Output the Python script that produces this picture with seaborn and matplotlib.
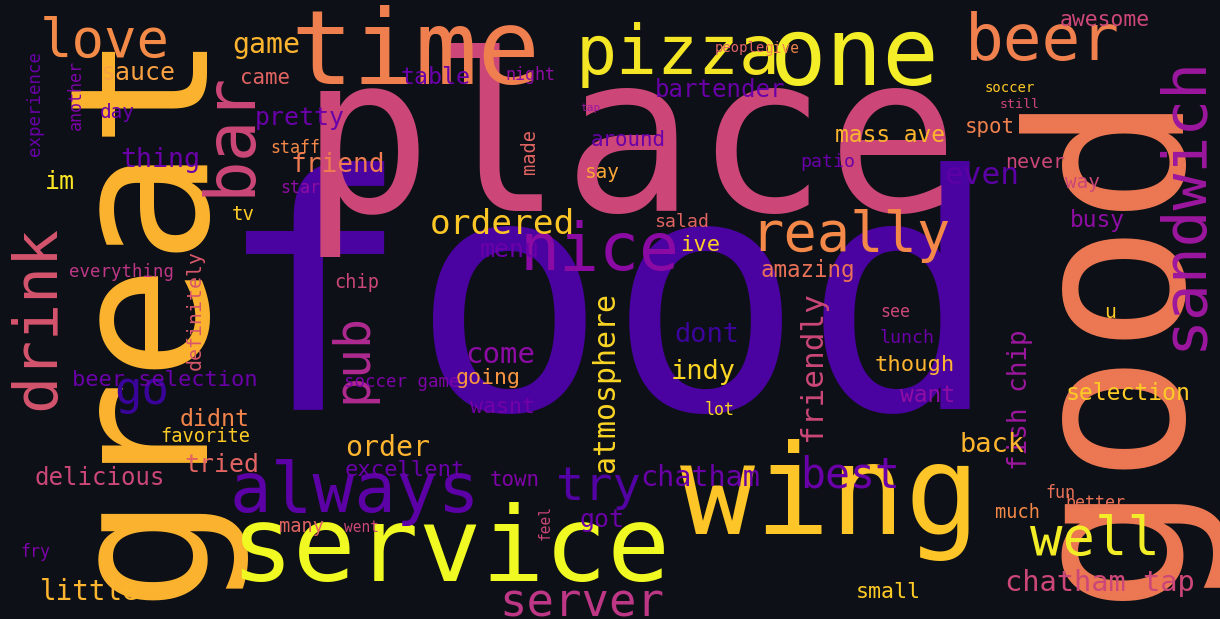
import matplotlib
matplotlib.use("Agg")
import matplotlib.pyplot as plt
import seaborn as sns

sns.set_theme(style="dark")
plt.rcParams['font.family'] = ['DejaVu Sans Mono', 'DejaVu Sans']

# words of the cloud
words = ["food","place","good","great","wing","service","time","pizza","one","bar","beer","sandwich",
 "love","really","nice","drink","go","always","pub","server","well","try","chatham","best","atmosphere",
 "friendly","fish chip","ordered","menu","ive","amazing","indy","dont","come","going","wasnt","lot","order",
 "delicious","favorite","tried","didnt","beer selection","definitely","im","thing","pretty","staff","friend",
 "star","tv","sauce","game","came","day","experience","another","everything","chip","mass ave","bartender",
 "table","night","people","give","awesome","tap","around","made","say","patio","even","soccer","still","spot",
 "never","way","busy","salad","u","see","lunch","though","want","selection","back","soccer game","excellent",
 "town","got","chatham tap","fun","better","much","feel","went","many","small","fry","little"]

# layout: (x center px, y center px, word length px, rotation, colour)
layout = [
 (608,318,785,0,"#4a02a0"),(630,150,660,0,"#cc4778"),(1112,340,520,90,"#ed7953"),(143,310,580,90,"#fdb42f"),
 (830,500,300,0,"#fdc527"),(450,552,440,0,"#f0f921"),(415,55,250,0,"#f07f4f"),(678,55,205,0,"#f5e625"),
 (855,58,170,0,"#f3ee27"),(230,133,125,90,"#cc4778"),(1042,42,155,0,"#f0804e"),(1183,203,295,90,"#9c179e"),
 (105,42,130,0,"#f48a47"),(850,236,200,0,"#f48848"),(600,252,160,0,"#8c0aa4"),(38,318,185,90,"#d5546e"),
 (142,392,55,0,"#3a049a"),(355,492,250,0,"#5c01a6"),(352,358,90,90,"#b02a90"),(582,604,165,0,"#bd3786"),
 (1095,540,130,0,"#f3ed27"),(598,488,85,0,"#5302a3"),(700,478,120,0,"#6a00a8"),(850,476,100,0,"#6a00a8"),
 (606,382,180,90,"#fbd524"),(812,366,150,90,"#cc4778"),(1020,400,140,90,"#9c179e"),(502,225,145,0,"#fdc627"),
 (510,250,60,0,"#6a00a8"),(700,245,40,0,"#fcce25"),(808,270,95,0,"#e97158"),(703,372,65,0,"#fbd524"),
 (707,335,65,0,"#3c049b"),(500,355,70,0,"#8d0ba5"),(488,378,65,0,"#f89540"),(503,407,65,0,"#7201a8"),
 (720,410,30,0,"#fcd225"),(388,448,85,0,"#fdb42f"),(100,478,130,0,"#cc4778"),(205,437,90,0,"#fdca26"),
 (222,465,75,0,"#e16462"),(215,420,70,0,"#f2844b"),(165,380,185,0,"#6a00a8"),(195,310,120,90,"#d8576b"),
 (60,182,30,0,"#fde725"),(160,160,80,0,"#6a00a8"),(300,118,90,0,"#6a00a8"),(295,148,50,0,"#f48849"),
 (338,165,95,0,"#ee7b51"),(300,188,40,0,"#8f0da4"),(243,215,23,0,"#fdca26"),(138,73,75,0,"#f9a242"),
 (266,45,68,0,"#fdb42f"),(265,78,50,0,"#e16462"),(117,112,35,0,"#6a00a8"),(35,103,105,90,"#6a00a8"),
 (76,95,70,90,"#7e03a8"),(122,272,105,0,"#bd3786"),(357,282,45,0,"#cc4778"),(890,135,110,0,"#fdb42f"),
 (720,90,130,0,"#6a00a8"),(435,78,70,0,"#6a00a8"),(530,75,50,0,"#8f0da4"),(740,48,50,0,"#e16462"),
 (782,48,35,0,"#f2844b"),(1105,20,90,0,"#cc4778"),(590,108,20,0,"#9c179e"),(628,140,75,0,"#6a00a8"),
 (530,152,45,90,"#e16462"),(602,172,35,0,"#fca636"),(828,162,55,0,"#6a00a8"),(982,176,75,0,"#5c01a6"),
 (1010,88,50,0,"#fdca26"),(1020,104,40,0,"#cc4778"),(990,127,50,0,"#f0804e"),(1035,163,60,0,"#cc4778"),
 (1082,182,35,0,"#cc4778"),(1097,220,55,0,"#8f0da4"),(682,222,55,0,"#e16462"),(1110,312,12,0,"#fdca26"),
 (895,312,30,0,"#cc4778"),(907,338,55,0,"#6a00a8"),(915,365,80,0,"#fdb42f"),(927,395,55,0,"#8f0da4"),
 (1128,393,125,0,"#fdca26"),(992,445,65,0,"#fdb42f"),(402,382,115,0,"#7e03a8"),(405,470,120,0,"#6a00a8"),
 (515,480,50,0,"#7e03a8"),(602,520,45,0,"#6a00a8"),(1100,583,190,0,"#cc4778"),(1060,493,30,0,"#e97158"),
 (1095,503,60,0,"#e97158"),(1017,513,45,0,"#f48849"),(545,522,35,90,"#cc4778"),(362,528,35,0,"#cc4778"),
 (302,527,45,0,"#e16462"),(888,592,65,0,"#fdca26"),(35,552,30,0,"#7e03a8"),(90,592,100,0,"#fdb42f"),
]

bg = "#0d1117"
fig = plt.figure(figsize=(12.2, 6.19), dpi=100, facecolor=bg)
ax = fig.add_axes([0, 0, 1, 1])
ax.set_facecolor(bg)
ax.set_xlim(0, 1220)
ax.set_ylim(619, 0)
ax.axis("off")
for w, (x, y, L, r, c) in zip(words, layout):
    em = L / (0.602 * len(w))
    ax.text(x, y, w, fontsize=em * 0.72, rotation=r, color=c, ha="center", va="center",
            rotation_mode="anchor")
fig.savefig("out.png", dpi=100, facecolor=bg)
